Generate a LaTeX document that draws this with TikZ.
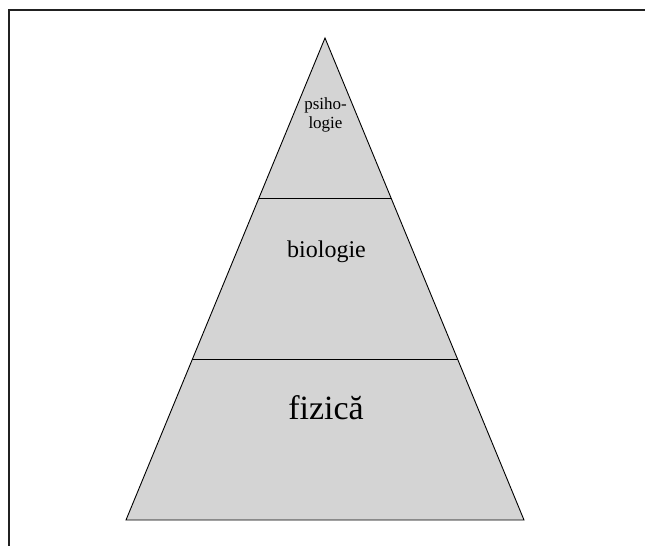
\documentclass[tikz,border=0pt]{standalone}
\usepackage{fontspec}
\setmainfont{Liberation Serif}
\usetikzlibrary{calc}
\begin{document}
\begin{tikzpicture}[x=1pt, y=-1pt,
                frameline/.style={draw=black!87, line width=2pt},
                pyramid/.style={draw=black, fill=black!17, line width=0.9pt, line join=miter},
                divider/.style={draw=black, line width=0.9pt},
                toplabel/.style={font=\fontsize{17}{19.5}\selectfont, align=center, inner sep=0pt},
                midlabel/.style={font=\fontsize{24}{28}\selectfont, anchor=base, inner sep=0pt},
                baselabel/.style={font=\fontsize{34}{40}\selectfont, anchor=base, inner sep=0pt}
            ]
            \useasboundingbox (0,0) rectangle (645,546);
            % frame
            \draw[frameline] (645,10) -- (8.5,10) -- (8.5,546);

            % pyramid
            \coordinate (apex) at (325,38);
            \coordinate (bl) at (126,520);
            \coordinate (br) at (524,520);
            \path[pyramid] (apex) -- (bl) -- (br) -- cycle;
            \coordinate (l1) at ($(apex)!1/3!(bl)$);
            \coordinate (r1) at ($(apex)!1/3!(br)$);
            \coordinate (l2) at ($(apex)!2/3!(bl)$);
            \coordinate (r2) at ($(apex)!2/3!(br)$);
            \draw[divider] (l1) -- (r1);
            \draw[divider] (l2) -- (r2);

            % labels
            \node[toplabel] (psiho) at (325.5,115) {psiho-\\logie};
            \node[midlabel] (bio) at (326.5,257) {biologie};
            \node[baselabel] (fiz) at (326,419) {fizică};
\end{tikzpicture}
\end{document}
